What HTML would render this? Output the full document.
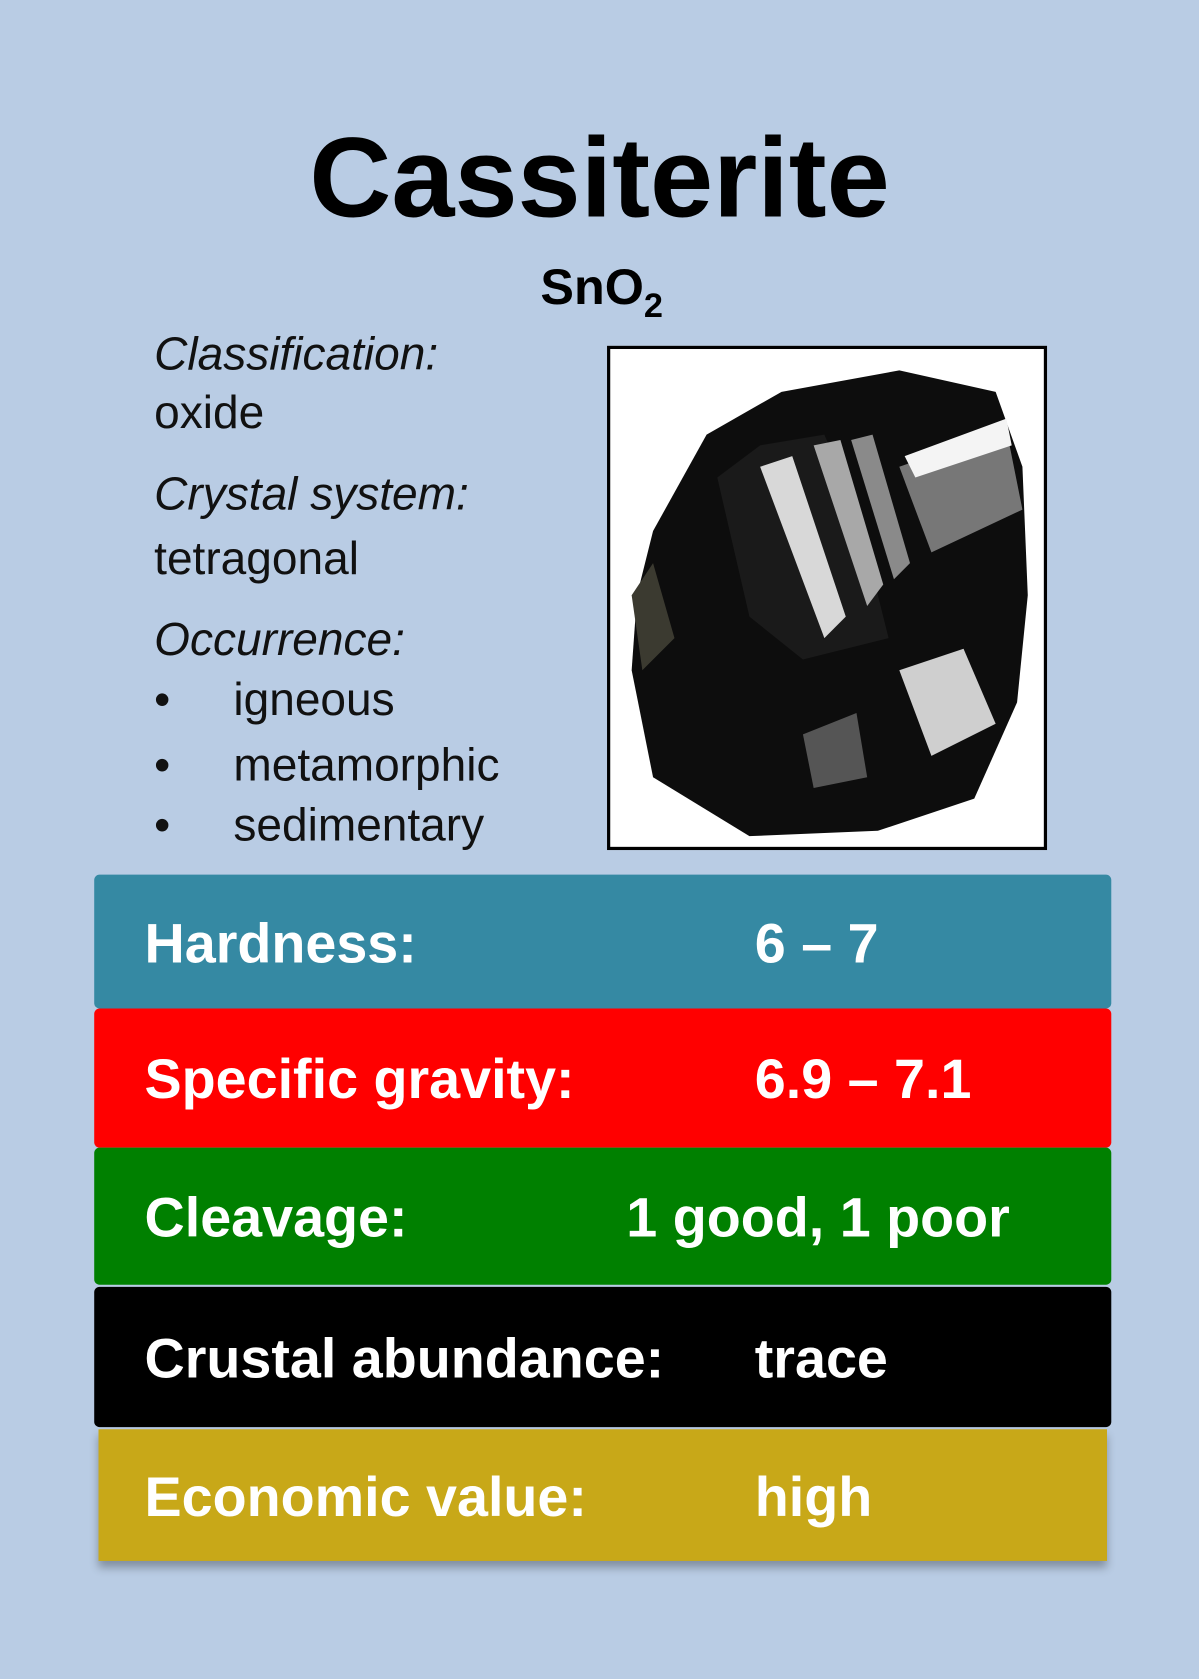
<!DOCTYPE html>
<html><head><meta charset="utf-8"><style>
html,body{margin:0;padding:0;}
body{width:1199px;height:1679px;background:#b9cce4;overflow:hidden;font-family:"Liberation Sans",sans-serif;}
#w{position:absolute;left:0;top:0;width:1120px;height:1568px;transform:scale(1.0706);transform-origin:0 0;}
.a{position:absolute;white-space:nowrap;}
.t{font-size:43px;color:#111;}
.i{font-style:italic;}
.bar{position:absolute;left:88px;width:950px;border-radius:5px;color:#fff;font-weight:bold;font-size:52px;}
.bar span{position:absolute;top:50%;transform:translateY(-47%);}
</style></head><body>
<div id="w">
<div class="a" style="left:0;width:1120px;text-align:center;top:106px;font-size:106px;font-weight:bold;color:#000;">Cassiterite</div>
<div class="a" style="left:0;width:1120px;text-align:center;top:240px;font-size:47px;font-weight:bold;color:#000;padding-left:2px;">SnO<sub style="font-size:32px;vertical-align:-12px">2</sub></div>

<div class="a t i" style="left:144px;top:307px;">Classification:</div>
<div class="a t" style="left:144px;top:362px;">oxide</div>
<div class="a t i" style="left:144px;top:438px;">Crystal system:</div>
<div class="a t" style="left:144px;top:498px;">tetragonal</div>
<div class="a t i" style="left:144px;top:574px;">Occurrence:</div>
<div class="a t" style="left:144px;top:630px;">•<span style="position:absolute;left:74px">igneous</span></div>
<div class="a t" style="left:144px;top:691px;">•<span style="position:absolute;left:74px">metamorphic</span></div>
<div class="a t" style="left:144px;top:747px;">•<span style="position:absolute;left:74px">sedimentary</span></div>

<div class="a" style="left:567px;top:323px;width:405px;height:465px;border:3px solid #000;background:#fff;overflow:hidden;">
<svg width="405" height="465" viewBox="0 0 405 465">
<polygon points="40,170 90,80 160,40 270,20 360,40 385,110 390,230 380,330 340,420 250,450 130,455 40,400 20,300 25,230" fill="#0d0d0d"/>
<polygon points="100,120 140,90 200,80 230,150 260,270 180,290 130,250" fill="#1a1a1a"/>
<polygon points="140,110 170,100 220,250 200,270" fill="#d8d8d8"/>
<polygon points="190,90 215,85 255,220 240,240" fill="#a8a8a8"/>
<polygon points="225,85 245,80 280,200 265,215" fill="#8a8a8a"/>
<polygon points="270,110 370,75 385,150 300,190" fill="#777"/>
<polygon points="275,100 370,65 375,90 285,120" fill="#f4f4f4"/>
<polygon points="270,300 330,280 360,350 300,380" fill="#cfcfcf"/>
<polygon points="20,230 40,200 60,270 30,300" fill="#3b3a30"/>
<polygon points="180,360 230,340 240,400 190,410" fill="#555"/>
</svg></div>

<div class="bar" style="top:817px;height:125px;background:#3589a3;"><span style="left:47px">Hardness:</span><span style="left:617px">6 – 7</span></div>
<div class="bar" style="top:942px;height:130px;background:#ff0000;"><span style="left:47px">Specific gravity:</span><span style="left:617px">6.9 – 7.1</span></div>
<div class="bar" style="top:1072px;height:128px;background:#008000;"><span style="left:47px">Cleavage:</span><span style="left:497px">1 good, 1 poor</span></div>
<div class="bar" style="top:1202px;height:131px;background:#000;"><span style="left:47px">Crustal abundance:</span><span style="left:617px">trace</span></div>
<div class="bar" style="top:1335px;left:92px;width:942px;height:123px;border-radius:0;background:#c8a818;box-shadow:0 6px 8px rgba(0,0,0,0.3);"><span style="left:43px">Economic value:</span><span style="left:613px">high</span></div>
</div>
</body></html>
